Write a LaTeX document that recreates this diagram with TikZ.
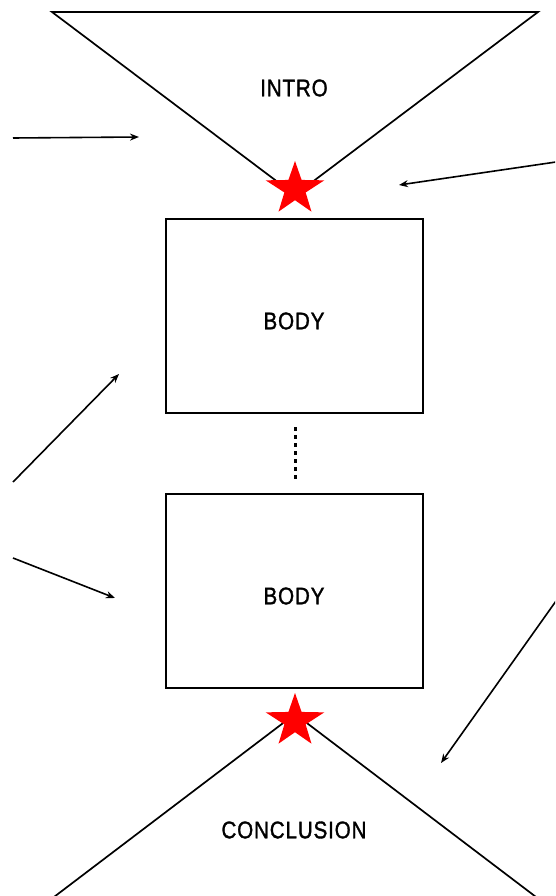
\documentclass[tikz,border=0pt]{standalone}
\usepackage{fontspec}
\setmainfont{Liberation Sans}
\newfontfamily\labelfont[FakeBold=1.5, LetterSpace=4]{Liberation Sans}
\usetikzlibrary{arrows.meta}
\tikzset{
  outline/.style={draw=black, line width=2pt},
  side/.style={draw=black, line width=1.7pt},
  pointer/.style={draw=black, line width=1.6pt, -{Stealth[length=9pt,width=7pt]}},
  boxlabel/.style={font=\labelfont\fontsize{24}{28}\selectfont, xscale=0.86, transform shape, inner sep=0pt}
}
\begin{document}
\begin{tikzpicture}[x=1pt,y=-1pt]
\useasboundingbox (0,0) rectangle (555,896);
\clip (0,0) rectangle (555,896);
% intro triangle
\coordinate (itl) at (52,12);
\coordinate (itr) at (538,12);
\coordinate (iap) at (295,195);
\draw[side] (iap) -- (itl) -- (itr) -- cycle;
\node[boxlabel] (intro) at (294,88) {INTRO};
% conclusion triangle
\coordinate (cap) at (295,714);
\coordinate (cbl) at (50,900);
\coordinate (cbr) at (540,900);
\draw[side] (cbl) -- (cap) -- (cbr);
\node[boxlabel] (concl) at (294,830) {CONCLUSION};
% bodies
\node[outline, minimum width=257pt, minimum height=194pt, inner sep=0pt] (body1) at (294.5,316) {};
\node[boxlabel] (b1t) at (294,321) {BODY};
\node[outline, minimum width=257pt, minimum height=194pt, inner sep=0pt] (body2) at (294.5,591) {};
\node[boxlabel] (b2t) at (294,596) {BODY};
% dotted connector
\coordinate (d1) at (295,427);
\coordinate (d2) at (295,480);
\draw[line width=3pt, dash pattern=on 4pt off 4pt] (d1) -- (d2);
% stars
\foreach \cx/\cy in {295/189, 295/721}{
  \fill[red] ({\cx+28*cos(90)},{\cy-28*sin(90)})
    -- ({\cx+11.2*cos(126)},{\cy-11.2*sin(126)})
    -- ({\cx+28*cos(162)*1.1},{\cy-28*sin(162)})
    -- ({\cx+11.2*cos(198)},{\cy-11.2*sin(198)})
    -- ({\cx+28*cos(234)},{\cy-28*sin(234)})
    -- ({\cx+11.2*cos(270)},{\cy-11.2*sin(270)})
    -- ({\cx+28*cos(306)},{\cy-28*sin(306)})
    -- ({\cx+11.2*cos(342)},{\cy-11.2*sin(342)})
    -- ({\cx+28*cos(18)*1.1},{\cy-28*sin(18)})
    -- ({\cx+11.2*cos(54)},{\cy-11.2*sin(54)})
    -- cycle;
}
% pointers
\coordinate (a1s) at (13,138);
\coordinate (a1e) at (139,137);
\coordinate (a2s) at (556,162);
\coordinate (a2e) at (399,185);
\coordinate (a3s) at (13,482);
\coordinate (a3e) at (119,374);
\coordinate (a4s) at (13,558);
\coordinate (a4e) at (115,598);
\coordinate (a5s) at (556,601);
\coordinate (a5e) at (441,763);
\draw[pointer] (a1s) -- (a1e);
\draw[pointer] (a2s) -- (a2e);
\draw[pointer] (a3s) -- (a3e);
\draw[pointer] (a4s) -- (a4e);
\draw[pointer] (a5s) -- (a5e);
\end{tikzpicture}
\end{document}
